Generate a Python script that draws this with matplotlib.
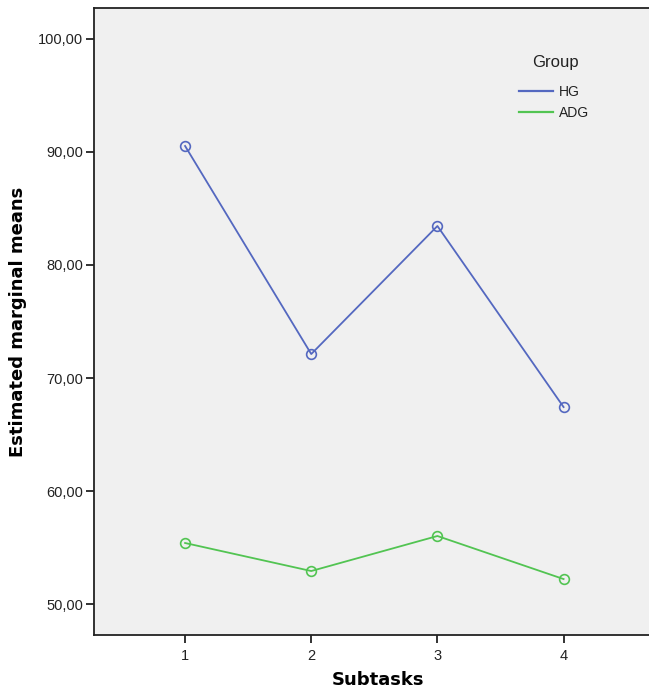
import matplotlib
matplotlib.use("Agg")
import matplotlib.pyplot as plt
from matplotlib.ticker import FuncFormatter

subtasks = [1, 2, 3, 4]
hg = [90.53, 72.12, 83.45, 67.43]
adg = [55.40, 52.92, 56.02, 52.21]
groups = ["HG", "ADG"]
colors = ["#5468c0", "#52c452"]
yticks = [50, 60, 70, 80, 90, 100]

W, H = 649, 692
fig = plt.figure(figsize=(W/100, H/100), dpi=100)
ax = fig.add_axes([94/W, 1-635/H, 1.0 - 94/W + 0.02, (635-8)/H])
ax.set_facecolor("#f0f0f0")

for vals, name, c in zip([hg, adg], groups, colors):
    ax.plot(subtasks, vals, color=c, lw=1.3, marker="o", ms=7,
            mfc="none", mec=c, mew=1.2, label=name)

ax.set_xlim(0.278, 4.78)
ax.set_ylim(47.26, 102.74)
ax.set_xticks(subtasks)
ax.set_yticks(yticks)
ax.yaxis.set_major_formatter(FuncFormatter(lambda v, p: f"{v:.2f}".replace(".", ",")))
for lab in ax.get_xticklabels() + ax.get_yticklabels():
    lab.set_family("Liberation Sans")
ax.tick_params(axis="both", direction="out", length=6, width=1.3, labelsize=10.5, colors="#222222")
ax.tick_params(axis="y", pad=2)
ax.tick_params(axis="x", pad=4)
for s in ["left", "bottom", "top"]:
    ax.spines[s].set_linewidth(1.3)
    ax.spines[s].set_color("#222222")
ax.spines["right"].set_visible(False)

ax.set_xlabel("Subtasks", fontsize=13, fontweight="bold", family="DejaVu Sans", labelpad=6)
ax.set_ylabel("Estimated marginal means", fontsize=13, fontweight="bold", family="DejaVu Sans", labelpad=8)

fig.text(555/W, 1-63/H, "Group", ha="center", va="center",
         family="Liberation Sans", fontsize=12, color="#222222")
leg = ax.legend(loc="upper left", bbox_to_anchor=(519/W, 1-85/H),
                bbox_transform=fig.transFigure,
                frameon=False, prop={"family": "Liberation Sans", "size": 10},
                handlelength=2.45, handletextpad=0.45, labelspacing=0.5,
                borderpad=0, borderaxespad=0)
for t in leg.get_texts():
    t.set_color("#222222")
for h in leg.get_lines():
    h.set_marker("")
    h.set_linewidth(1.6)

fig.savefig("out.png", dpi=100)
